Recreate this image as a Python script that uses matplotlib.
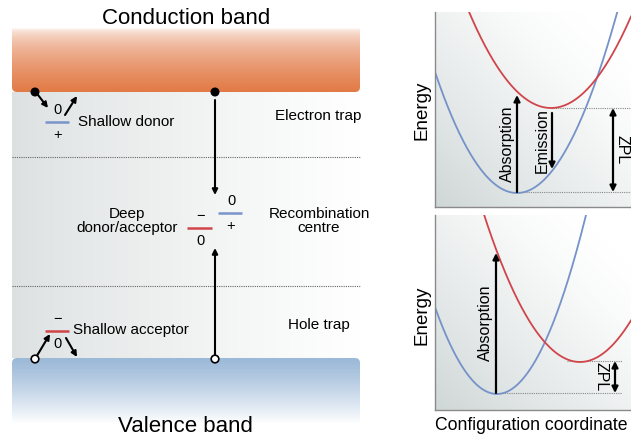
import numpy as np
import matplotlib.pyplot as plt
from matplotlib.patches import FancyBboxPatch, Circle

plt.rcParams['font.family'] = ['Liberation Sans', 'DejaVu Sans']

W, H = 631, 438

# ---- band diagram (figure pixel units, y pointing down) ----
band_x = [12, 360]
cb_y = [28, 92]          # conduction band: faded top, lower edge
vb_y = [358, 424]        # valence band: upper edge, faded bottom
trap_borders = [157, 286]
carrier_x = [35, 215]

# defect levels: x0, x1, y, colour
level_names = ['shallow donor', 'deep acceptor', 'deep donor', 'shallow acceptor']
level_x0 = [45, 187, 218, 45]
level_x1 = [69, 212, 242, 69]
level_y = [122, 228, 213, 331]
level_col = ['#7894cb', '#d0454a', '#7894cb', '#d0454a']
charge_above = ['0', '\u2212', '0', '\u2212']
charge_below = ['+', '0', '+', '0']

# capture / emission arrows (tail -> head)
arrow_tail = [(35, 91), (65, 115), (215, 100), (35, 359), (66, 338), (215, 356)]
arrow_head = [(48, 108), (77, 96), (215, 195), (50, 334), (77, 357), (215, 248)]

# ---- configuration coordinate panels ----
# each curve: q at minimum, energy at minimum, curvature
top_ground = (517, 193, 0.0180)
top_excited = (551, 108, 0.0143)
bot_ground = (497, 394, 0.0226)
bot_excited = (580, 362, 0.0160)

blue = '#7592c9'
red = '#d0454a'

fig = plt.figure(figsize=(W / 100, H / 100), dpi=100)
ax = fig.add_axes([0, 0, 1, 1])
ax.set_xlim(0, W)
ax.set_ylim(H, 0)
ax.axis('off')


def vgrad(c_top, c_bot, n=200, gamma=1.0):
    t = np.linspace(0, 1, n) ** gamma
    c0 = np.array(plt.matplotlib.colors.to_rgb(c_top))
    c1 = np.array(plt.matplotlib.colors.to_rgb(c_bot))
    img = c0[None, :] * (1 - t[:, None]) + c1[None, :] * t[:, None]
    return img[:, None, :]


# conduction band
img = vgrad('#ffffff', '#e27a46', gamma=0.5)
im = ax.imshow(img, extent=(band_x[0], band_x[1], cb_y[1], cb_y[0]), aspect='auto', zorder=1)
clip = FancyBboxPatch((band_x[0], cb_y[0] - 10), band_x[1] - band_x[0], cb_y[1] - cb_y[0] + 10,
                      boxstyle='round,pad=0,rounding_size=5', transform=ax.transData)
im.set_clip_path(clip)

# gap region
t = np.linspace(0, 1, 200)
c0 = np.array([0.865, 0.880, 0.880])
gap = c0[None, :] * (1 - t[:, None] ** 0.8) + np.ones(3)[None, :] * t[:, None] ** 0.8
ax.imshow(gap[None, :, :], extent=(band_x[0], band_x[1], vb_y[0], cb_y[1]), aspect='auto', zorder=0)

# valence band
img = vgrad('#9cb9d8', '#ffffff', gamma=1.2)
im = ax.imshow(img, extent=(band_x[0], band_x[1], vb_y[1], vb_y[0]), aspect='auto', zorder=1)
clip = FancyBboxPatch((band_x[0], vb_y[0]), band_x[1] - band_x[0], vb_y[1] - vb_y[0] + 10,
                      boxstyle='round,pad=0,rounding_size=5', transform=ax.transData)
im.set_clip_path(clip)

for yb in trap_borders:
    ax.plot(band_x, [yb, yb], color='#666666', lw=0.8, ls=(0, (1, 1)), zorder=2)

for x0, x1, y, c, a, b in zip(level_x0, level_x1, level_y, level_col, charge_above, charge_below):
    xc = (x0 + x1) / 2
    ax.plot([x0, x1], [y, y], color=c, lw=1.8, solid_capstyle='butt', zorder=3)
    ax.text(xc + 1, y - 12, a, ha='center', va='center', fontsize=10.5, zorder=4)
    ax.text(xc + 1, y + 13, b, ha='center', va='center', fontsize=10.5, zorder=4)

for (x0, y0), (x1, y1) in zip(arrow_tail, arrow_head):
    ax.annotate('', xy=(x1, y1), xytext=(x0, y0),
                arrowprops=dict(arrowstyle='-|>', color='black', lw=1.5,
                                mutation_scale=8, shrinkA=0, shrinkB=0), zorder=4)

for xc in carrier_x:
    ax.add_patch(Circle((xc, cb_y[1]), 3.8, facecolor='black', edgecolor='black', zorder=5))
    ax.add_patch(Circle((xc, vb_y[0] + 1), 3.8, facecolor='white', edgecolor='black', lw=1.2, zorder=5))

ax.text(186, 18, 'Conduction band', ha='center', va='center', fontsize=16)
ax.text(185, 427, 'Valence band', ha='center', va='center', fontsize=16)
ax.text(78, 122, 'Shallow donor', ha='left', va='center', fontsize=11)
ax.text(73, 330, 'Shallow acceptor', ha='left', va='center', fontsize=11)
ax.text(275, 116, 'Electron trap', ha='left', va='center', fontsize=11)
ax.text(288, 325, 'Hole trap', ha='left', va='center', fontsize=11)
ax.text(127, 221, 'Deep\ndonor/acceptor', ha='center', va='center', fontsize=11, linespacing=1.05)
ax.text(319, 221, 'Recombination\ncentre', ha='center', va='center', fontsize=11, linespacing=1.05)

ax.text(422, 110, 'Energy', rotation=90, ha='center', va='center', fontsize=13.5)
ax.text(422, 315, 'Energy', rotation=90, ha='center', va='center', fontsize=13.5)
ax.text(435, 425, 'Configuration coordinate', ha='left', va='center', fontsize=12.7)


def cc_panel(ybox, ground, excited, arrows, zpl_lines, zpl_x, xmax_dots):
    x0, x1 = 435, W
    y0, y1 = ybox
    pax = fig.add_axes([x0 / W, 1 - y1 / H, (x1 - x0) / W, (y1 - y0) / H])
    pax.set_xlim(x0, x1)
    pax.set_ylim(y1, y0)
    for s in ['top', 'right']:
        pax.spines[s].set_visible(False)
    for s in ['left', 'bottom']:
        pax.spines[s].set_color('#8a8a8a')
        pax.spines[s].set_linewidth(1.0)
    pax.set_xticks([])
    pax.set_yticks([])
    xx, yy = np.meshgrid(np.linspace(0, 1, 120), np.linspace(0, 1, 120))
    d = np.clip(0.55 * (1 - xx) + 0.55 * yy - 0.15, 0, 1) ** 1.3
    c0 = np.array([0.80, 0.83, 0.83])
    bg = np.ones((120, 120, 3)) * (1 - d[..., None]) + c0 * d[..., None]
    pax.imshow(bg, extent=(x0, x1, y1, y0), aspect='auto', zorder=0)

    q = np.linspace(x0, x1, 400)
    for (qm, em, k), c in [(ground, blue), (excited, red)]:
        pax.plot(q, em - k * (q - qm) ** 2, color=c, lw=1.3, zorder=2)

    for xs, yl in zpl_lines:
        pax.plot([xs, xmax_dots], [yl, yl], color='#888888', lw=0.8, ls=(0, (1, 1)), zorder=1)

    for xa, ya, yb, label, lx in arrows:
        pax.annotate('', xy=(xa, yb), xytext=(xa, ya),
                     arrowprops=dict(arrowstyle='-|>', color='black', lw=1.6,
                                     mutation_scale=9, shrinkA=0, shrinkB=0), zorder=3)
        pax.text(lx, (ya + yb) / 2, label, rotation=90, ha='center', va='center', fontsize=11.5, zorder=3)

    ya, yb = zpl_lines[0][1], zpl_lines[1][1]
    pax.annotate('', xy=(zpl_x, yb), xytext=(zpl_x, ya),
                 arrowprops=dict(arrowstyle='<|-|>', color='black', lw=1.6,
                                 mutation_scale=9, shrinkA=0, shrinkB=0), zorder=3)
    return pax


top = cc_panel((12, 207), top_ground, top_excited,
               [(517, 192, 95, 'Absorption', 507), (552, 113, 169, 'Emission', 542)],
               [(551, 108), (517, 192)], 613, W)
top.text(622, 150, 'ZPL', rotation=270, ha='center', va='center', fontsize=11.5)

bot = cc_panel((215, 410), bot_ground, bot_excited,
               [(496, 393, 253, 'Absorption', 485)],
               [(567, 361), (500, 393)], 615, 622)
bot.text(601, 377, 'ZPL', rotation=270, ha='center', va='center', fontsize=11.5)

fig.savefig('out.png', dpi=100)
